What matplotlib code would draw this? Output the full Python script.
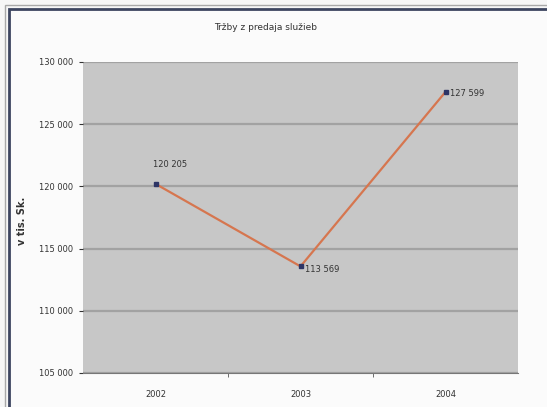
import matplotlib.pyplot as plt
from matplotlib.patches import Rectangle
from matplotlib.ticker import FuncFormatter

# data
years = ['2002', '2003', '2004']
trzby = [120205, 113569, 127599]
point_labels = ['120 205', '113 569', '127 599']
y_ticks = [105000, 110000, 115000, 120000, 125000, 130000]

fig = plt.figure(figsize=(5.47, 4.07), dpi=100)
fig.patch.set_facecolor('#f6f6f6')

# outer frames (grey line + dark navy line), kept behind the axes
fig.patches.append(Rectangle((5 / 547, -0.1), 1.2, 1.1 - 5 / 407, transform=fig.transFigure,
                             fill=False, edgecolor='#a8a8a8', linewidth=1.0, zorder=-10))
fig.patches.append(Rectangle((9 / 547, -0.1), 1.2, 1.1 - 9 / 407, transform=fig.transFigure,
                             facecolor='#fbfbfb', edgecolor='#3d4560', linewidth=2.0, zorder=-9))

ax = fig.add_axes([83 / 547, 34 / 407, 435 / 547, 311 / 407])
ax.set_facecolor('#c7c7c7')

x = list(range(len(years)))
ax.plot(x, trzby, color='#d6764f', linewidth=1.6, zorder=3)
ax.plot(x, trzby, linestyle='none', marker='s', markersize=3.5,
        color='#2e3566', zorder=4)

offsets = [(-2, 14), (3, -2), (3, -1)]
for xi, yi, lab, off in zip(x, trzby, point_labels, offsets):
    ax.annotate(lab, (xi, yi), xytext=off, textcoords='offset points',
                fontsize=6, color='#333333', va='center', ha='left')

ax.set_xlim(-0.5, 2.5)
ax.set_ylim(105000, 130000)
ax.set_yticks(y_ticks)
ax.yaxis.set_major_formatter(FuncFormatter(lambda v, p: f'{int(v):,}'.replace(',', ' ')))
ax.set_xticks(x)
ax.set_xticklabels(years)
ax.set_xticks([0.5, 1.5], minor=True)
ax.tick_params(axis='x', which='major', length=0, labelsize=6, colors='#333333', pad=12)
ax.tick_params(axis='x', which='minor', length=3, color='#555555', direction='out')
ax.tick_params(axis='y', length=3, labelsize=6, colors='#333333', pad=4)

ax.grid(axis='y', color='#a2a2a2', linewidth=1.6)
ax.set_axisbelow(True)
for s in ['top', 'right', 'left']:
    ax.spines[s].set_visible(False)
ax.spines['bottom'].set_color('#777777')

ax.set_ylabel('v tis. Sk.', fontsize=7, fontweight='bold', color='#333333')
ax.yaxis.set_label_coords(-0.128, 0.49)
fig.text(266 / 547, 1 - 28 / 407, 'Tržby z predaja služieb', fontsize=6.5,
         color='#333333', ha='center', va='center')

plt.savefig('out.png', dpi=100, facecolor=fig.get_facecolor())
